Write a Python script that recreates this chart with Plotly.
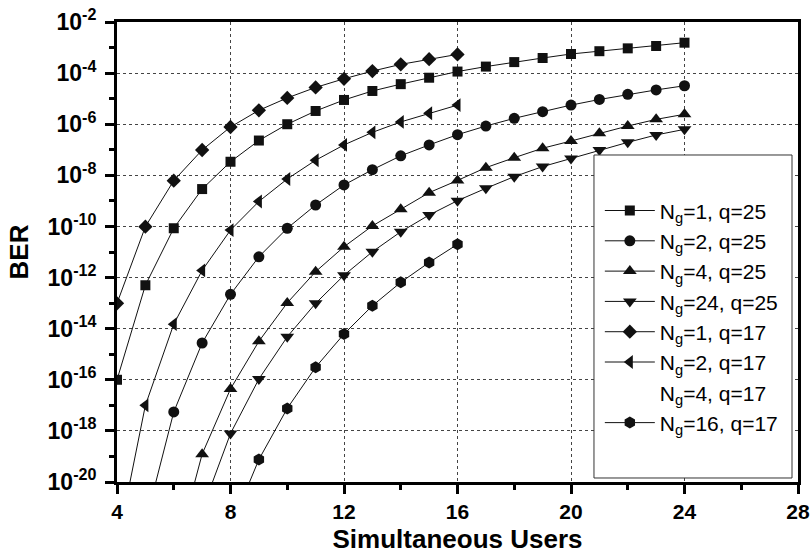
import plotly.graph_objects as go

# Simultaneous users on the horizontal axis
users_ng1_q25 = list(range(4, 25))
ber_ng1_q25 = [1.0e-16, 5.0e-13, 8.5e-11, 2.9e-9, 3.4e-8, 2.3e-7, 1.0e-6, 3.3e-6, 8.9e-6,
               2.0e-5, 3.7e-5, 6.6e-5, 1.15e-4, 1.8e-4, 2.7e-4, 3.9e-4, 5.6e-4, 7.2e-4,
               9.3e-4, 1.15e-3, 1.55e-3]

users_ng2_q25 = list(range(5, 25))
ber_ng2_q25 = [2.5e-22, 5.5e-18, 2.75e-15, 2.2e-13, 6.5e-12, 8.5e-11, 6.9e-10, 4.2e-9,
               1.66e-8, 5.8e-8, 1.55e-7, 3.9e-7, 8.5e-7, 1.7e-6, 3.1e-6, 5.6e-6, 9.3e-6,
               1.48e-5, 2.2e-5, 3.2e-5]

users_ng4_q25 = list(range(6, 25))
ber_ng4_q25 = [8.0e-24, 1.23e-19, 4.4e-17, 3.2e-15, 1.02e-13, 1.7e-12, 1.6e-11, 1.05e-10,
               4.7e-10, 2.1e-9, 6.3e-9, 2.0e-8, 4.9e-8, 1.15e-7, 2.2e-7, 4.4e-7, 8.5e-7,
               1.55e-6, 2.45e-6]

users_ng24_q25 = list(range(7, 25))
ber_ng24_q25 = [8.0e-22, 7.9e-19, 1.07e-16, 4.8e-15, 9.8e-14, 1.23e-12, 1.02e-11, 6.2e-11,
                2.8e-10, 1.02e-9, 3.1e-9, 8.9e-9, 2.2e-8, 4.6e-8, 9.8e-8, 1.95e-7, 3.8e-7,
                6.3e-7]

users_ng1_q17 = list(range(4, 17))
ber_ng1_q17 = [9.8e-14, 9.8e-11, 6.2e-9, 9.8e-8, 7.8e-7, 3.5e-6, 1.07e-5, 2.75e-5, 6.0e-5,
               1.2e-4, 2.2e-4, 3.5e-4, 5.4e-4]

users_ng2_q17 = list(range(4, 17))
ber_ng2_q17 = [3.0e-23, 1.0e-17, 1.5e-14, 1.9e-12, 7.2e-11, 9.5e-10, 7.2e-9, 3.9e-8,
               1.55e-7, 4.8e-7, 1.23e-6, 2.7e-6, 5.6e-6]

users_ng4_q17 = []
ber_ng4_q17 = []

users_ng16_q17 = list(range(8, 17))
ber_ng16_q17 = [1.6e-22, 7.6e-20, 7.6e-18, 3.1e-16, 6.2e-15, 7.9e-14, 6.5e-13, 3.9e-12,
                2.0e-11]

x_ticks = [4, 8, 12, 16, 20, 24, 28]
x_minor = [6, 10, 14, 18, 22, 26]
y_exponents = [-2, -4, -6, -8, -10, -12, -14, -16, -18, -20]
y_minor_exponents = [-3, -5, -7, -9, -11, -13, -15, -17, -19]

series = [
    ("N<sub>g</sub>=1, q=25", users_ng1_q25, ber_ng1_q25, "square", 10),
    ("N<sub>g</sub>=2, q=25", users_ng2_q25, ber_ng2_q25, "circle", 11),
    ("N<sub>g</sub>=4, q=25", users_ng4_q25, ber_ng4_q25, "triangle-up", 12),
    ("N<sub>g</sub>=24, q=25", users_ng24_q25, ber_ng24_q25, "triangle-down", 12),
    ("N<sub>g</sub>=1, q=17", users_ng1_q17, ber_ng1_q17, "diamond", 11),
    ("N<sub>g</sub>=2, q=17", users_ng2_q17, ber_ng2_q17, "triangle-left", 12),
    ("N<sub>g</sub>=4, q=17", users_ng4_q17, ber_ng4_q17, None, 0),
    ("N<sub>g</sub>=16, q=17", users_ng16_q17, ber_ng16_q17, "hexagon", 12),
]

fig = go.Figure()
for i, (name, xs, ys, symbol, size) in enumerate(series):
    if symbol is None:
        # entry without marks: only its label appears in the key
        fig.add_trace(go.Scatter(x=[None], y=[None], name=name, mode="lines",
                                 line=dict(color="rgba(0,0,0,0)", width=1),
                                 legendgroup=f"g{i}"))
        continue
    fig.add_trace(go.Scatter(
        x=xs, y=ys, name=name, mode="lines+markers",
        line=dict(color="#111111", width=1),
        marker=dict(symbol=symbol, size=size, color="#111111", line=dict(width=0)),
        legendgroup=f"g{i}",
    ))

axis_common = dict(
    showline=True, linecolor="black", linewidth=3, mirror=True,
    ticks="outside", tickcolor="black", tickwidth=3, ticklen=9,
    showgrid=True, gridcolor="#444444", griddash="dot", gridwidth=1,
    zeroline=False, automargin=False,
)

fig.update_xaxes(
    **axis_common,
    range=[4, 28], tickmode="array", tickvals=x_ticks,
    tickfont=dict(family="Liberation Sans, Arial", size=21, color="black", weight="bold"),
    minor=dict(tickmode="array", tickvals=x_minor, ticks="outside", ticklen=5,
               tickwidth=3, tickcolor="black", showgrid=False),
    title=dict(text="Simultaneous Users", standoff=15,
               font=dict(family="Liberation Sans, Arial", size=26, color="black", weight="bold")),
)

fig.update_yaxes(
    **axis_common,
    type="log", range=[-20, -2], tickmode="array",
    tickvals=[10.0 ** e for e in y_exponents],
    ticktext=[f"10<sup>{e}</sup>" for e in y_exponents],
    tickfont=dict(family="Liberation Sans, Arial", size=23, color="black", weight="bold"),
    ticklabelstandoff=4,
    minor=dict(tickmode="array", tickvals=[10.0 ** e for e in y_minor_exponents],
               ticks="outside", ticklen=5, tickwidth=3, tickcolor="black", showgrid=False),
    title=dict(text="BER", standoff=12,
               font=dict(family="Liberation Sans, Arial", size=26, color="black", weight="bold")),
)

# framed key box
fig.add_shape(type="rect", xref="paper", yref="paper",
              x0=0.7004, x1=0.9912, y0=0.0087, y1=0.7109,
              line=dict(color="#333333", width=1), fillcolor="white", layer="above")

fig.update_layout(
    width=811, height=554,
    margin=dict(l=117, r=13, t=22, b=72),
    plot_bgcolor="white", paper_bgcolor="white",
    font=dict(family="Liberation Sans, Arial", color="black"),
    showlegend=True,
    legend=dict(x=0.709, xanchor="left", y=0.634, yanchor="top",
                bgcolor="rgba(0,0,0,0)", borderwidth=0,
                font=dict(family="Liberation Sans, Arial", size=21, color="black"),
                itemwidth=50, tracegroupgap=0),
)

fig.write_html("out.html")
